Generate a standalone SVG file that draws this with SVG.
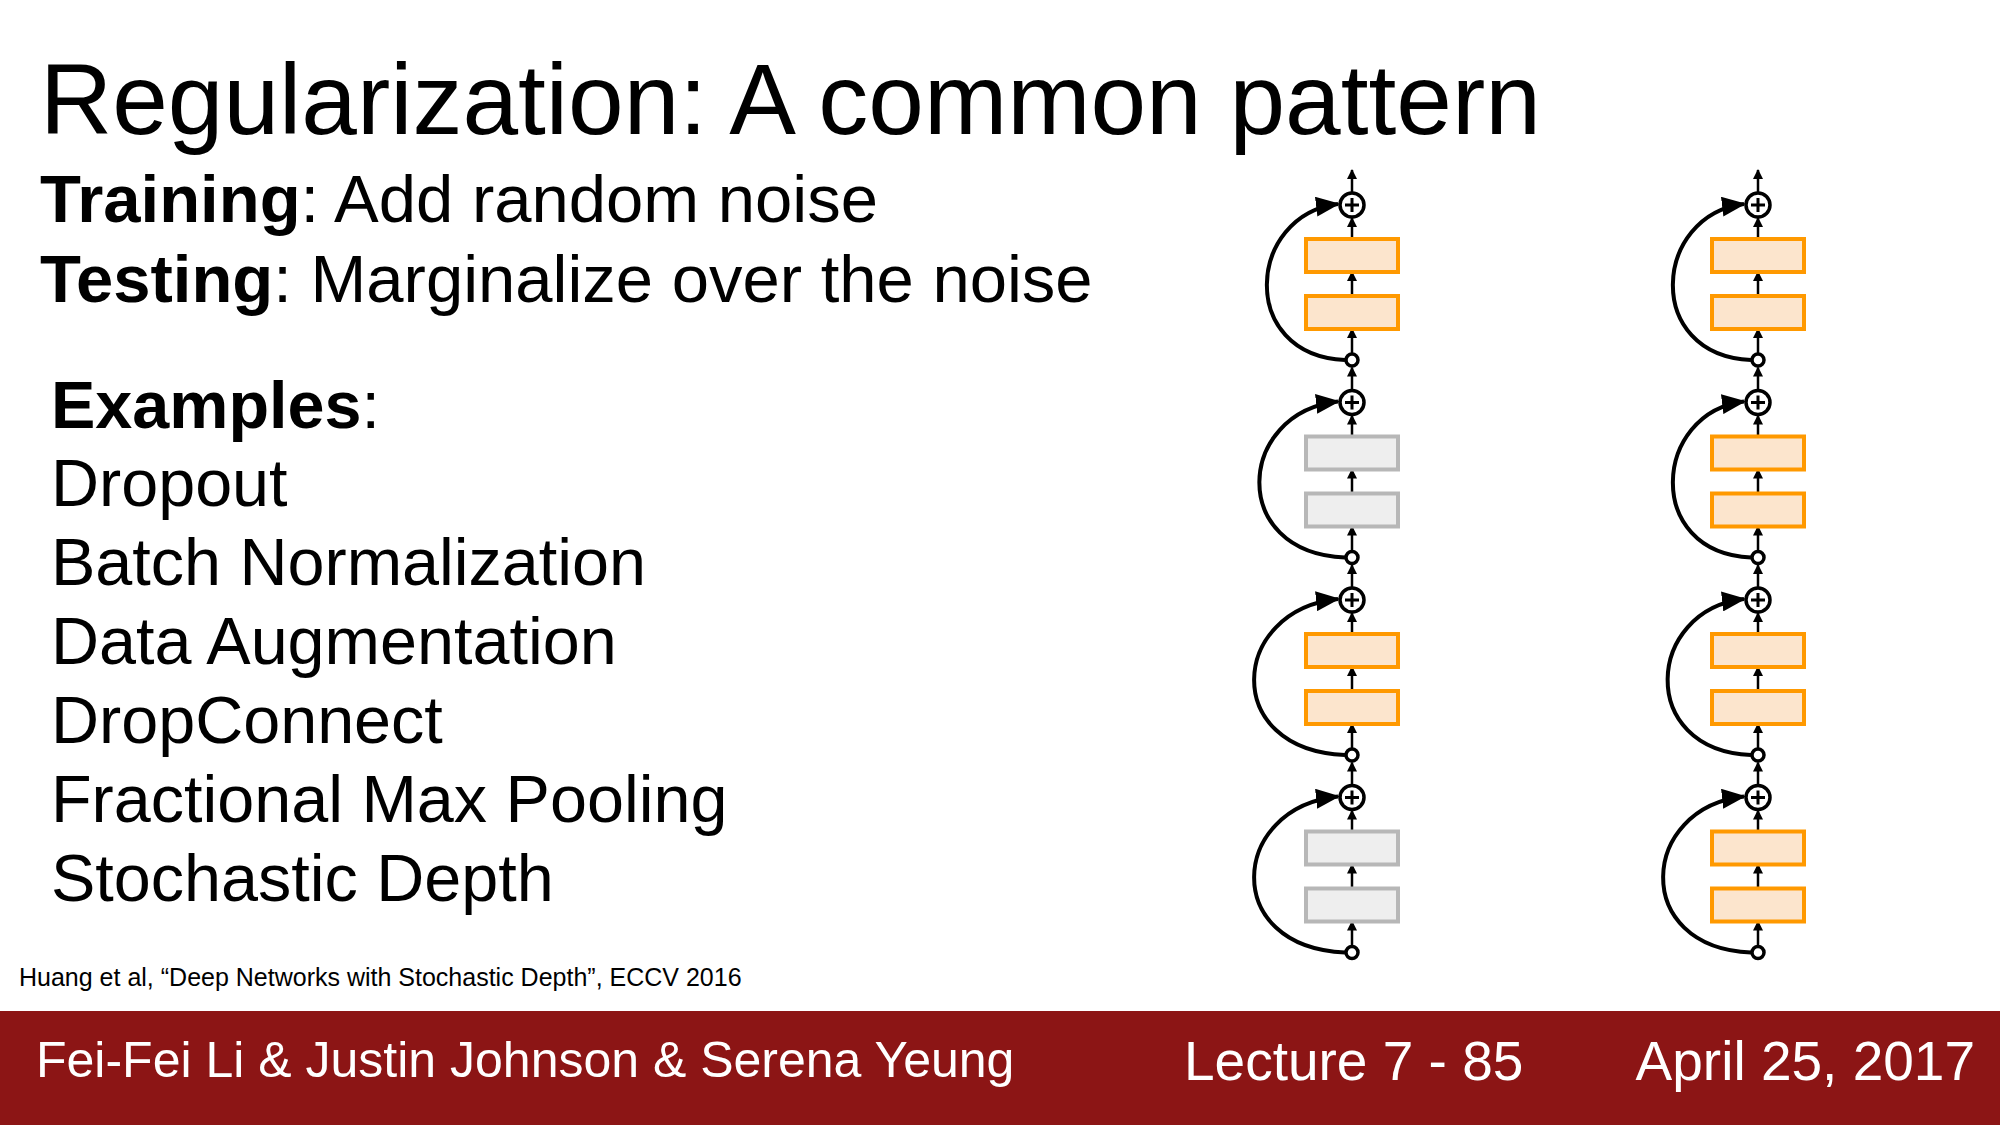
<svg xmlns="http://www.w3.org/2000/svg" width="2000" height="1125" viewBox="0 0 2000 1125">
<defs>
<style>
text{font-family:"Liberation Sans",Arial,sans-serif;fill:#000}
.o{fill:#fce5cd;stroke:#ff9900;stroke-width:4}
.g{fill:#eeeeee;stroke:#b7b7b7;stroke-width:4}
.l{stroke:#000;stroke-width:2.5;fill:none}
.a{stroke:#000;stroke-width:4;fill:none}
.c{fill:#fff;stroke:#000;stroke-width:3.5}
.f{fill:#fff}
</style>
<marker id="s" markerWidth="10" markerHeight="10" refX="9" refY="5" orient="auto" markerUnits="userSpaceOnUse"><path d="M0,0L10,5L0,10z" fill="#000"/></marker>
<marker id="b" markerWidth="24" markerHeight="20" refX="22" refY="10" orient="auto" markerUnits="userSpaceOnUse"><path d="M0,0L24,10L0,20z" fill="#000"/></marker>
<g id="block">
<line class="l" x1="0" y1="192" x2="0" y2="170" marker-end="url(#s)"/>
<line class="l" x1="0" y1="239" x2="0" y2="218" marker-end="url(#s)"/>
<line class="l" x1="0" y1="296" x2="0" y2="272" marker-end="url(#s)"/>
<line class="l" x1="0" y1="353" x2="0" y2="329" marker-end="url(#s)"/>
<circle class="c" cx="0" cy="360" r="6"/>
<circle class="c" cx="0" cy="205" r="12"/>
<path d="M-7,205h14M0,198v14" stroke="#000" stroke-width="3"/>
</g>
</defs>
<rect width="2000" height="1125" fill="#fff"/>
<text x="40" y="134" font-size="100">Regularization: A common pattern</text>
<text x="40" y="222" font-size="67"><tspan font-weight="bold">Training</tspan>: Add random noise</text>
<text x="40" y="302" font-size="67"><tspan font-weight="bold">Testing</tspan>: Marginalize over the noise</text>
<g font-size="66.5">
<text x="51" y="428"><tspan font-weight="bold">Examples</tspan>:</text>
<text x="51" y="506">Dropout</text>
<text x="51" y="585">Batch Normalization</text>
<text x="51" y="664">Data Augmentation</text>
<text x="51" y="743">DropConnect</text>
<text x="51" y="822">Fractional Max Pooling</text>
<text x="51" y="901">Stochastic Depth</text>
</g>
<text x="19" y="986" font-size="25">Huang et al, “Deep Networks with Stochastic Depth”, ECCV 2016</text>
<g id="left">
<g id="L1" transform="translate(1352,0)"><use href="#block"/><rect class="o" x="-46" y="239" width="92" height="33"/><rect class="o" x="-46" y="296" width="92" height="33"/><path class="a" d="M-7,360C-115,355 -105,215 -14,204" marker-end="url(#b)"/></g>
<g id="L2" transform="translate(1352,197.5)"><use href="#block"/><rect class="g" x="-46" y="239" width="92" height="33"/><rect class="g" x="-46" y="296" width="92" height="33"/><path class="a" d="M-7,360C-125,355 -115,215 -14,204" marker-end="url(#b)"/></g>
<g id="L3" transform="translate(1352,395)"><use href="#block"/><rect class="o" x="-46" y="239" width="92" height="33"/><rect class="o" x="-46" y="296" width="92" height="33"/><path class="a" d="M-7,360C-132,355 -122,215 -14,204" marker-end="url(#b)"/></g>
<g id="L4" transform="translate(1352,592.5)"><use href="#block"/><rect class="g" x="-46" y="239" width="92" height="33"/><rect class="g" x="-46" y="296" width="92" height="33"/><path class="a" d="M-7,360C-132,355 -122,215 -14,204" marker-end="url(#b)"/></g>
</g>
<g id="right">
<g id="R1" transform="translate(1758,0)"><use href="#block"/><rect class="o" x="-46" y="239" width="92" height="33"/><rect class="o" x="-46" y="296" width="92" height="33"/><path class="a" d="M-7,360C-115,355 -105,215 -14,204" marker-end="url(#b)"/></g>
<g id="R2" transform="translate(1758,197.5)"><use href="#block"/><rect class="o" x="-46" y="239" width="92" height="33"/><rect class="o" x="-46" y="296" width="92" height="33"/><path class="a" d="M-7,360C-115,355 -105,215 -14,204" marker-end="url(#b)"/></g>
<g id="R3" transform="translate(1758,395)"><use href="#block"/><rect class="o" x="-46" y="239" width="92" height="33"/><rect class="o" x="-46" y="296" width="92" height="33"/><path class="a" d="M-7,360C-122,355 -112,215 -14,204" marker-end="url(#b)"/></g>
<g id="R4" transform="translate(1758,592.5)"><use href="#block"/><rect class="o" x="-46" y="239" width="92" height="33"/><rect class="o" x="-46" y="296" width="92" height="33"/><path class="a" d="M-7,360C-128,355 -118,215 -14,204" marker-end="url(#b)"/></g>
</g>
<rect x="0" y="1011" width="2000" height="114" fill="#8c1515"/>
<text class="f" x="36" y="1077" font-size="50">Fei-Fei Li &amp; Justin Johnson &amp; Serena Yeung</text>
<text class="f" x="1184" y="1080" font-size="55">Lecture 7 - 85</text>
<text class="f" x="1975" y="1080" font-size="55" text-anchor="end">April 25, 2017</text>
</svg>
